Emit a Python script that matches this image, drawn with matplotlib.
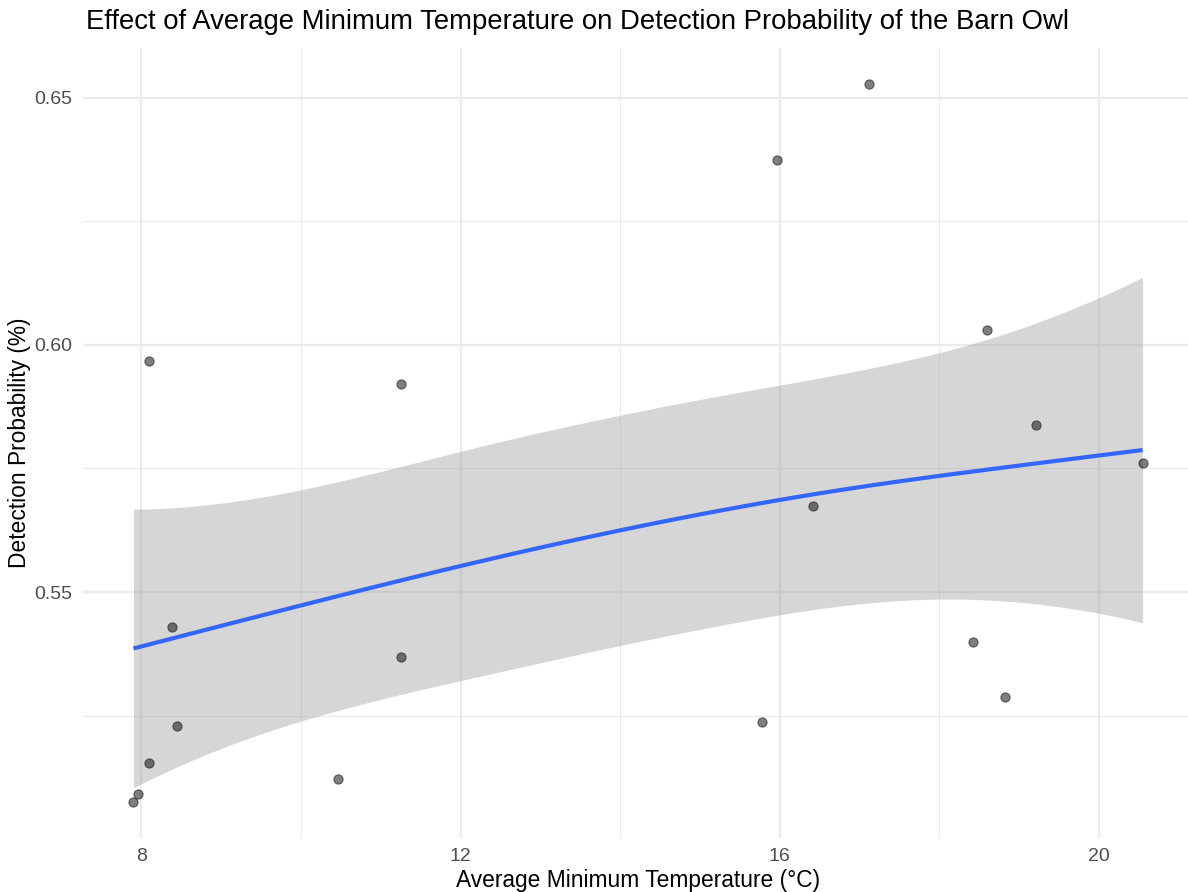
import numpy as np
import matplotlib
matplotlib.use("Agg")
import matplotlib.pyplot as plt
from matplotlib.ticker import MultipleLocator

# ---- data ----
temp_c = [7.90, 7.96, 8.09, 8.09, 8.38, 8.45, 10.46, 11.26, 11.25,
          15.78, 15.97, 17.12, 16.42, 18.42, 18.60, 18.83, 19.22, 20.55]
detect_prob = [0.5075, 0.5091, 0.5154, 0.5968, 0.5429, 0.5229, 0.5121, 0.5921, 0.5368,
               0.5237, 0.6374, 0.6528, 0.5674, 0.5399, 0.6030, 0.5287, 0.5838, 0.5761]
x_ticks = [8, 12, 16, 20]
y_ticks = [0.55, 0.60, 0.65]
y_tick_labels = ["0.55", "0.60", "0.65"]

title = "Effect of Average Minimum Temperature on Detection Probability of the Barn Owl"
x_label = "Average Minimum Temperature (°C)"
y_label = "Detection Probability (%)"

x = np.asarray(temp_c, float)
y = np.asarray(detect_prob, float)


# ---- GAM smoother: y ~ s(x, bs="cs", k=10), REML (as geom_smooth(method="gam")) ----
def place_knots(v, nk):
    u = np.sort(np.unique(v))
    n = len(u)
    pos = np.arange(nk) * (n - 1) / (nk - 1)
    lo_i = np.floor(pos).astype(int)
    hi_i = np.minimum(lo_i + 1, n - 1)
    frac = pos - lo_i
    return u[lo_i] * (1 - frac) + u[hi_i] * frac


def cr_setup(kn):
    k = len(kn)
    h = np.diff(kn)
    D = np.zeros((k - 2, k))
    B = np.zeros((k - 2, k - 2))
    for i in range(k - 2):
        D[i, i] = 1 / h[i]
        D[i, i + 1] = -1 / h[i] - 1 / h[i + 1]
        D[i, i + 2] = 1 / h[i + 1]
        B[i, i] = (h[i] + h[i + 1]) / 3
        if i < k - 3:
            B[i, i + 1] = B[i + 1, i] = h[i + 1] / 6
    Binv_D = np.linalg.solve(B, D)
    F = np.vstack([np.zeros(k), Binv_D, np.zeros(k)])
    S = D.T @ Binv_D
    return F, S


def cr_basis(v, kn, F):
    k = len(kn)
    v = np.asarray(v, float)
    j = np.clip(np.searchsorted(kn, v, side="right") - 1, 0, k - 2)
    h = kn[j + 1] - kn[j]
    am = (kn[j + 1] - v) / h
    ap = (v - kn[j]) / h
    cm = ((kn[j + 1] - v) ** 3 / h - h * (kn[j + 1] - v)) / 6
    cp = ((v - kn[j]) ** 3 / h - h * (v - kn[j])) / 6
    Xb = np.zeros((len(v), k))
    rows = np.arange(len(v))
    Xb[rows, j] += am
    Xb[rows, j + 1] += ap
    Xb += cm[:, None] * F[j] + cp[:, None] * F[j + 1]
    return Xb


k = 10
knots = place_knots(x, k)
F, S = cr_setup(knots)
# "cs" shrinkage of the penalty null space
ev, evec = np.linalg.eigh(S)
order = np.argsort(ev)[::-1]
ev, evec = ev[order], evec[:, order]
ev[k - 2] = ev[k - 3] * 0.1
ev[k - 1] = ev[k - 2] * 0.1
S = (evec * ev) @ evec.T

Xs_raw = cr_basis(x, knots, F)
C = Xs_raw.sum(axis=0)[:, None]
Q, _ = np.linalg.qr(C, mode="complete")
Z = Q[:, 1:]
Xc = Xs_raw @ Z
Sc = Z.T @ S @ Z
n = len(x)
X = np.column_stack([np.ones(n), Xc])
Sf = np.zeros((k, k))
Sf[1:, 1:] = Sc
logdet_Sc = np.linalg.slogdet(Sc)[1]
Mp = 1


def reml(log_lam):
    lam = np.exp(log_lam)
    A = X.T @ X + lam * Sf
    b = np.linalg.solve(A, X.T @ y)
    rss = np.sum((y - X @ b) ** 2)
    pen = lam * b @ Sf @ b
    phi = (rss + pen) / (n - Mp)
    v = ((n - Mp) / 2) * np.log(phi) + 0.5 * np.linalg.slogdet(A)[1] \
        - 0.5 * ((k - 1) * log_lam + logdet_Sc)
    return v, b, phi, A


grid = np.linspace(-15, 25, 2001)
vals = [reml(g)[0] for g in grid]
best = grid[int(np.argmin(vals))]
fine = np.linspace(best - 0.05, best + 0.05, 201)
best = fine[int(np.argmin([reml(g)[0] for g in fine]))]
_, beta, phi, A = reml(best)
Vp = np.linalg.inv(A) * phi

xs = np.linspace(x.min(), x.max(), 80)
Xp = np.column_stack([np.ones_like(xs), cr_basis(xs, knots, F) @ Z])
fit = Xp @ beta
se = np.sqrt(np.einsum("ij,jk,ik->i", Xp, Vp, Xp))
lo = fit - 1.959964 * se
hi = fit + 1.959964 * se

# ---- figure ----
W, H, DPI = 1188, 892, 100
fig = plt.figure(figsize=(W / DPI, H / DPI), dpi=DPI)
fig.patch.set_facecolor("white")

xmin, xmax = x.min(), x.max()
xr = xmax - xmin
xlim = (xmin - 0.05 * xr, xmax + 0.05 * xr)
ymin_d = min(y.min(), lo.min())
ymax_d = max(y.max(), hi.max())
yr = ymax_d - ymin_d
ylim = (ymin_d - 0.05 * yr, ymax_d + 0.05 * yr)

left_px, right_px, top_px, bot_px = 83, 1193, 48, 838
ax = fig.add_axes([left_px / W, 1 - bot_px / H,
                   (right_px - left_px) / W, (bot_px - top_px) / H])
ax.set_xlim(*xlim)
ax.set_ylim(*ylim)
ax.set_facecolor("white")
for s in ax.spines.values():
    s.set_visible(False)

grid_col = "#EBEBEB"
ax.xaxis.set_minor_locator(MultipleLocator(2))
ax.yaxis.set_minor_locator(MultipleLocator(0.025))
ax.set_xticks(x_ticks)
ax.set_yticks(y_ticks)
ax.set_yticklabels(y_tick_labels)
ax.grid(which="major", color=grid_col, linewidth=1.6, zorder=0)
ax.grid(which="minor", color=grid_col, linewidth=0.8, zorder=0)
ax.set_axisbelow(True)
ax.tick_params(which="both", length=0)
ax.tick_params(axis="both", labelsize=14.0, labelcolor="#4D4D4D")
ax.tick_params(axis="x", pad=7)
ax.tick_params(axis="y", pad=8)
for lab in ax.get_xticklabels() + ax.get_yticklabels():
    lab.set_fontfamily("Liberation Sans")

ax.scatter(x, y, s=44, color="black", alpha=0.5, linewidths=0.8,
           edgecolors=(0, 0, 0, 0.5), zorder=3)
ax.fill_between(xs, lo, hi, color="#999999", alpha=0.4, linewidth=0, zorder=2)
ax.plot(xs, fit, color="#3366FF", linewidth=3.0, zorder=4, solid_capstyle="butt")

fig.text(86 / W, 1 - 22 / H, title, fontsize=19.8, family="Liberation Sans",
         ha="left", va="center", color="black")
fig.text((left_px + 1188) / 2 / W + 0.002, 1 - 880 / H, x_label, fontsize=16.4,
         family="Liberation Sans", ha="center", va="center")
fig.text(20 / W, 1 - (top_px + bot_px) / 2 / H, y_label, fontsize=16.4,
         family="Liberation Sans", ha="center", va="center", rotation=90)

fig.savefig("out.png", dpi=DPI, facecolor="white")
